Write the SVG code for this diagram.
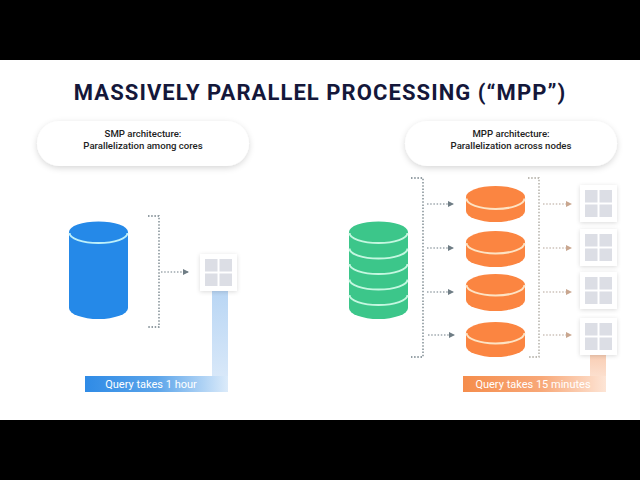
<svg xmlns="http://www.w3.org/2000/svg" width="640" height="480" viewBox="0 0 640 480">
<defs>
<filter id="sh" x="-20%" y="-40%" width="140%" height="200%"><feDropShadow dx="0" dy="2" stdDeviation="3" flood-color="#000" flood-opacity="0.16"/></filter>
<filter id="sb" x="-30%" y="-30%" width="160%" height="160%"><feDropShadow dx="0" dy="1" stdDeviation="2" flood-color="#000" flood-opacity="0.14"/></filter>
<linearGradient id="bh" x1="0" x2="1" y1="0" y2="0"><stop offset="0" stop-color="#2f8be6"/><stop offset="0.5" stop-color="#5aa4ea"/><stop offset="1" stop-color="#dcebfa"/></linearGradient>
<linearGradient id="bv" x1="0" x2="0" y1="0" y2="1"><stop offset="0" stop-color="#b9d6f4"/><stop offset="1" stop-color="#d8e8f9"/></linearGradient>
<linearGradient id="oh" x1="0" x2="1" y1="0" y2="0"><stop offset="0" stop-color="#f58d4c"/><stop offset="0.55" stop-color="#f8a878"/><stop offset="1" stop-color="#fde5d6"/></linearGradient>
<linearGradient id="ov" x1="0" x2="0" y1="0" y2="1"><stop offset="0" stop-color="#f9cdb3"/><stop offset="1" stop-color="#fce0cf"/></linearGradient>
<marker id="a" viewBox="0 0 6 6" refX="5" refY="3" markerWidth="6" markerHeight="6" orient="auto" markerUnits="userSpaceOnUse"><path d="M0 0L6 3L0 6Z" fill="#6f7d85"/></marker>
<marker id="b" viewBox="0 0 6 6" refX="5" refY="3" markerWidth="6" markerHeight="6" orient="auto" markerUnits="userSpaceOnUse"><path d="M0 0L6 3L0 6Z" fill="#c9a68f"/></marker>
<g id="grid"><rect width="37" height="37" fill="#fff" filter="url(#sb)"/><rect x="5" y="5" width="12.5" height="12.5" fill="#dcdee5"/><rect x="19.5" y="5" width="12.5" height="12.5" fill="#dcdee5"/><rect x="5" y="19.5" width="12.5" height="12.5" fill="#dcdee5"/><rect x="19.5" y="19.5" width="12.5" height="12.5" fill="#dcdee5"/></g>
</defs>
<style>
text{font-family:"Roboto","Liberation Sans",sans-serif}
.t{font-size:22px;font-weight:700;fill:#14173a;letter-spacing:1.07px;text-anchor:middle}
.p{font-size:9.6px;font-weight:500;fill:#222;text-anchor:middle}
.q{font-size:11px;fill:#fff;text-anchor:middle}
.pill{fill:#fff;filter:url(#sh)}
.d{fill:none;stroke:#6f7d85;stroke-width:1.3;stroke-dasharray:1.5 1.7}
.e{fill:none;stroke:#a9a59c;stroke-width:1.3;stroke-dasharray:1.5 1.7}
.f{fill:none;stroke:#6f7d85;stroke-width:1.2;stroke-dasharray:1.5 1.7;marker-end:url(#a)}
.g{fill:none;stroke:#b3a397;stroke-width:1.2;stroke-dasharray:1.5 1.7;marker-end:url(#b)}
.blue{fill:#2589e8}
.green{fill:#3cc68a}
.orange{fill:#fb8541}
.sl{fill:none;stroke-width:2}
</style>
<rect width="640" height="480" fill="#000"/>
<rect y="60" width="640" height="360" fill="#fff"/>
<text class="t" x="320" y="100">MASSIVELY PARALLEL PROCESSING (“MPP”)</text>
<g id="smp-label"><rect class="pill" x="37" y="121" width="212" height="45" rx="22.5"/><text class="p" x="143" y="136.500">SMP architecture:</text><text class="p" x="143" y="148.500">Parallelization among cores</text></g>
<g id="mpp-label"><rect class="pill" x="405" y="121" width="212" height="45" rx="22.5"/><text class="p" x="511" y="136.500">MPP architecture:</text><text class="p" x="511" y="148.500">Parallelization across nodes</text></g>
<g id="smp-band"><rect x="212" y="291" width="16" height="86" fill="url(#bv)"/><rect x="85" y="376" width="143" height="16" fill="url(#bh)"/><text class="q" x="151" y="388">Query takes 1 hour</text></g>
<g id="mpp-band"><rect x="590" y="354" width="16" height="23" fill="url(#ov)"/><rect x="463" y="376" width="143" height="16" fill="url(#oh)"/><text class="q" x="533" y="388">Query takes 15 minutes</text></g>
<g id="smp-db"><path class="blue" d="M69 232A29.500 10.500 0 0 1 128 232V308A29.500 11 0 0 1 69 308Z"/><path class="sl" stroke="#bdf0fa" d="M69.500 233A29 10 0 0 0 127.500 233"/></g>
<g id="mpp-db"><path class="green" d="M349 232A29.500 10.500 0 0 1 408 232V308A29.500 11 0 0 1 349 308Z"/>
<g class="sl" stroke="#c4f7e0"><path d="M349.500 233A29 10 0 0 0 407.500 233"/><path d="M349.500 248.500A29 10 0 0 0 407.500 248.500"/><path d="M349.500 264A29 10 0 0 0 407.500 264"/><path d="M349.500 279.500A29 10 0 0 0 407.500 279.500"/><path d="M349.500 295A29 10 0 0 0 407.500 295"/></g></g>
<g id="o1"><path class="orange" d="M466 197A29.500 11 0 0 1 525 197V211A29.500 11 0 0 1 466 211Z"/><path class="sl" stroke="#fde3c4" d="M466.500 198.500A29 10.500 0 0 0 524.500 198.500"/></g>
<g id="o2"><path class="orange" d="M466 242A29.500 11 0 0 1 525 242V256A29.500 11 0 0 1 466 256Z"/><path class="sl" stroke="#fde3c4" d="M466.500 243A29 10.500 0 0 0 524.500 243"/></g>
<g id="o3"><path class="orange" d="M466 285A29.500 11 0 0 1 525 285V300A29.500 11 0 0 1 466 300Z"/><path class="sl" stroke="#fde3c4" d="M466.500 285A29 10.500 0 0 0 524.500 285"/></g>
<g id="o4"><path class="orange" d="M466 333A29.500 11 0 0 1 525 333V346A29.500 11 0 0 1 466 346Z"/><path class="sl" stroke="#fde3c4" d="M466.500 333A29 10.500 0 0 0 524.500 333"/></g>
<use id="g0" href="#grid" x="200" y="254"/>
<use id="g1" href="#grid" x="580" y="185"/>
<use id="g2" href="#grid" x="580" y="229"/>
<use id="g3" href="#grid" x="580" y="272"/>
<use id="g4" href="#grid" x="580" y="318"/>
<g id="connectors">
<path class="d" d="M148 216H159V327H148"/>
<path class="f" d="M161 272H188"/>
<path class="d" d="M411 178H423V357H411"/>
<path class="e" d="M528 178H539V357H528"/>
<path class="f" d="M427 204H453"/><path class="f" d="M427 248H453"/><path class="f" d="M427 292H453"/><path class="f" d="M428 335H454"/>
<path class="g" d="M543 204H571"/><path class="g" d="M543 248H571"/><path class="g" d="M543 292H571"/><path class="g" d="M543 335H571"/>
</g>
</svg>
